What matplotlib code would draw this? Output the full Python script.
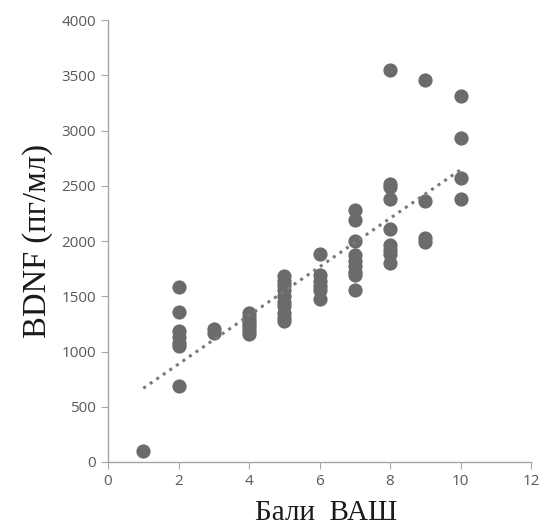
import numpy as np
import matplotlib
matplotlib.use("Agg")
import matplotlib.pyplot as plt

# VAS score (x) and BDNF level (y)
vas_1 = [1]
bdnf_1 = [100]
vas_2 = [2] * 7
bdnf_2 = [1580, 1360, 1190, 1130, 1080, 1050, 690]
vas_3 = [3] * 2
bdnf_3 = [1200, 1170]
vas_4 = [4] * 7
bdnf_4 = [1350, 1310, 1280, 1250, 1220, 1190, 1160]
vas_5 = [5] * 10
bdnf_5 = [1680, 1640, 1600, 1560, 1500, 1450, 1410, 1350, 1300, 1280]
vas_6 = [6] * 6
bdnf_6 = [1880, 1690, 1640, 1590, 1560, 1480]
vas_7 = [7] * 9
bdnf_7 = [2280, 2190, 2000, 1870, 1820, 1770, 1720, 1690, 1560]
vas_8 = [8] * 9
bdnf_8 = [3550, 2520, 2490, 2380, 2110, 1960, 1920, 1880, 1800]
vas_9 = [9] * 4
bdnf_9 = [3460, 2360, 2030, 1990]
vas_10 = [10] * 4
bdnf_10 = [3310, 2930, 2570, 2380]

x = np.array(vas_1 + vas_2 + vas_3 + vas_4 + vas_5 + vas_6 + vas_7 + vas_8 + vas_9 + vas_10)
y = np.array(bdnf_1 + bdnf_2 + bdnf_3 + bdnf_4 + bdnf_5 + bdnf_6 + bdnf_7 + bdnf_8 + bdnf_9 + bdnf_10)

fig = plt.figure(figsize=(5.43, 5.31), dpi=100)
ax = fig.add_axes([0.199, 0.13, 0.779, 0.832])

ax.scatter(x, y, s=105, color="#6b6b6d", zorder=3, linewidths=0)

# linear trend line from the points
k, b = np.polyfit(x, y, 1)
xs = np.array([1, 10])
ax.plot(xs, k * xs + b, linestyle=(0, (1, 1.6)), color="#7a7a7a", linewidth=2.2, zorder=4)

ax.set_xlim(0, 12)
ax.set_ylim(0, 4000)
ax.set_xticks(range(0, 13, 2))
ax.set_yticks(range(0, 4001, 500))

for side in ["top", "right"]:
    ax.spines[side].set_visible(False)
for side in ["left", "bottom"]:
    ax.spines[side].set_color("#a6a6a6")
    ax.spines[side].set_linewidth(1.0)
ax.tick_params(colors="#a6a6a6", labelcolor="#595959", labelsize=11, length=5, direction="out")
for lbl in ax.get_xticklabels() + ax.get_yticklabels():
    lbl.set_family("Open Sans")

ax.set_xlabel("Бали  ВАШ", family="Liberation Serif", fontsize=21, color="#1a1a1a", labelpad=8)
ax.xaxis.label.set_x(0.515)
ax.set_ylabel("BDNF (пг/мл)", family="Liberation Serif", fontsize=23.5, color="#1a1a1a", labelpad=6)

fig.savefig("out.png", dpi=100)
